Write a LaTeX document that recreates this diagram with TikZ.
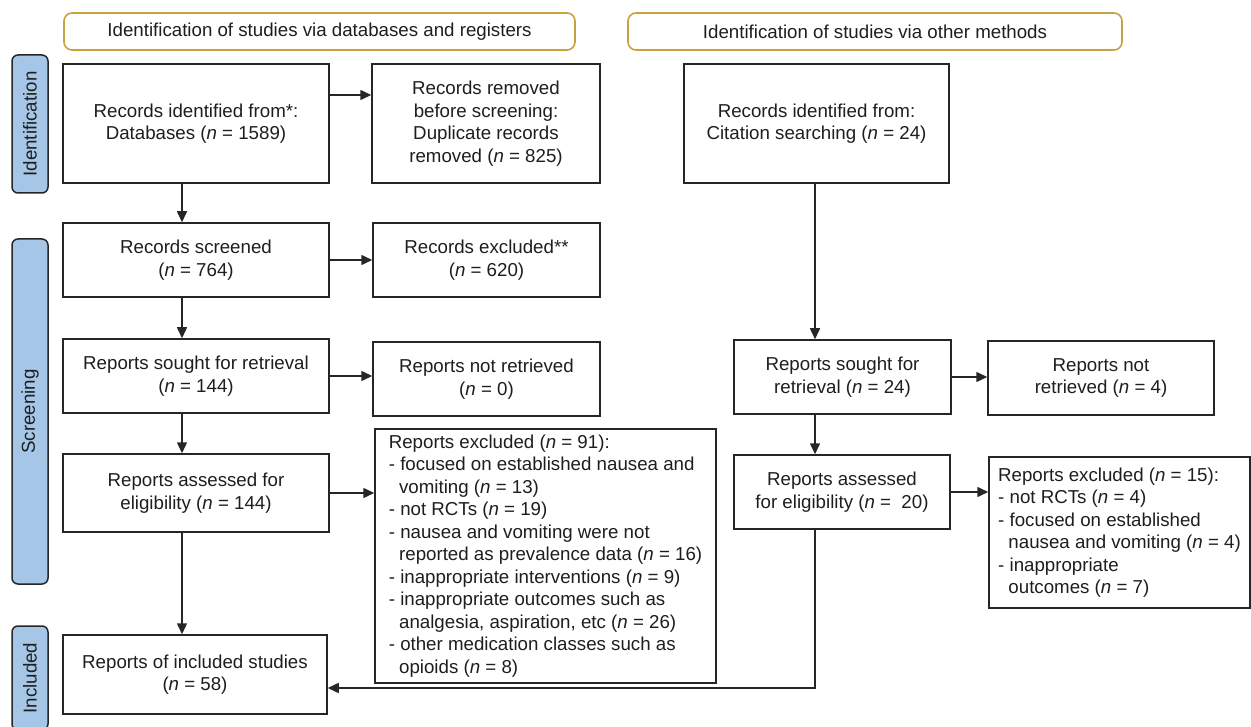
\documentclass[tikz,border=0pt]{standalone}
\usepackage{fontspec}
\setmainfont{Liberation Sans}
\usepackage{xcolor}
\definecolor{prgold}{HTML}{C9A23F}
\definecolor{prblue}{HTML}{A6C6E8}
\definecolor{prline}{HTML}{262626}
\definecolor{prtext}{HTML}{1E1E1E}
\usepackage{tikz}
\usetikzlibrary{arrows.meta,calc}

\begin{document}
\begin{tikzpicture}[x=1pt,y=-1pt,
  every node/.style={font=\fontsize{18.7}{22.5}\selectfont,text=prtext},
  box/.style={draw=prline,line width=1.5pt,fill=white,align=center,inner sep=0pt},
  phase/.style={draw=prline,line width=1.5pt,fill=prblue,rounded corners=6pt,
                rotate=90,inner sep=0pt,minimum height=36pt},
  head/.style={draw=prgold,line width=1.6pt,rounded corners=8pt,
               minimum height=37pt,inner sep=0pt},
  arr/.style={draw=prline,line width=1.5pt,-{Triangle[length=11pt,width=10pt]}}]
  \useasboundingbox (0,0) rectangle (1251,727);
  \clip (0,0) rectangle (1251,727);

  %% Headers
  \node[head,minimum width=511pt] (hdDb) at (319.5,31.5)
    {Identification of studies via databases and registers};
  \node[head,minimum width=494pt] (hdOt) at (875,31.5)
    {Identification of studies via other methods};

  %% Phases
  \node[phase,minimum width=138pt] (phId)  at (30,124)   {Identification};
  \node[phase,minimum width=345pt] (phScr) at (30,411.5) {Screening};
  \node[phase,minimum width=104pt] (phInc) at (30,678)   {Included};

  %% Databases and registers
  \node[box,minimum width=266pt,minimum height=119pt] (idDb) at (196,123.5)
    {Records identified from*:\\Databases (\textit{n} = 1589)};
  \node[box,minimum width=228pt,minimum height=119pt] (rmDb) at (486,123.5)
    {Records removed\\before screening:\\Duplicate records\\removed (\textit{n} = 825)};
  \node[box,minimum width=266pt,minimum height=74pt] (scr) at (196,260)
    {Records screened\\(\textit{n} = 764)};
  \node[box,minimum width=227pt,minimum height=74pt] (exRec) at (486.5,260)
    {Records excluded**\\(\textit{n} = 620)};
  \node[box,minimum width=266pt,minimum height=74pt] (sgDb) at (196,376)
    {Reports sought for retrieval\\(\textit{n} = 144)};
  \node[box,minimum width=227pt,minimum height=74pt] (nrDb) at (486.5,379)
    {Reports not retrieved\\(\textit{n} = 0)};
  \node[box,minimum width=266pt,minimum height=78pt] (asDb) at (196,493)
    {Reports assessed for\\eligibility (\textit{n} = 144)};
  \node[box,align=left,minimum width=341pt,minimum height=254pt] (exDb) at (545.5,556)
    {Reports excluded (\textit{n} = 91):\\
     - focused on established nausea and\\
     \hspace*{0.55em}vomiting (\textit{n} = 13)\\
     - not RCTs (\textit{n} = 19)\\
     - nausea and vomiting were not\\
     \hspace*{0.55em}reported as prevalence data (\textit{n} = 16)\\
     - inappropriate interventions (\textit{n} = 9)\\
     - inappropriate outcomes such as\\
     \hspace*{0.55em}analgesia, aspiration, etc (\textit{n} = 26)\\
     - other medication classes such as\\
     \hspace*{0.55em}opioids (\textit{n} = 8)};
  \node[box,minimum width=264pt,minimum height=79pt] (incl) at (195,674.5)
    {Reports of included studies\\(\textit{n} = 58)};

  %% Other methods
  \node[box,minimum width=265pt,minimum height=119pt] (idOt) at (816.5,123.5)
    {Records identified from:\\Citation searching (\textit{n} = 24)};
  \node[box,minimum width=217pt,minimum height=74pt] (sgOt) at (842.5,377)
    {Reports sought for\\retrieval (\textit{n} = 24)};
  \node[box,minimum width=226pt,minimum height=74pt] (nrOt) at (1101,378)
    {Reports not\\retrieved (\textit{n} = 4)};
  \node[box,minimum width=216pt,minimum height=74pt] (asOt) at (842,492)
    {Reports assessed\\for eligibility (\textit{n} =\ \ 20)};
  \node[box,align=left,minimum width=261pt,minimum height=151pt] (exOt) at (1119.5,532.5)
    {Reports excluded (\textit{n} = 15):\\
     - not RCTs (\textit{n} = 4)\\
     - focused on established\\
     \hspace*{0.55em}nausea and vomiting (\textit{n} = 4)\\
     - inappropriate\\
     \hspace*{0.55em}outcomes (\textit{n} = 7)};

  %% Connectors
  \draw[arr] ([yshift=28.5pt]idDb.east) -- ([yshift=28.5pt]idDb.east -| rmDb.west);
  \draw[arr] ([xshift=-14pt]idDb.south) -- ([xshift=-14pt]idDb.south |- scr.north);
  \draw[arr] (scr.east) -- (scr.east -| exRec.west);
  \draw[arr] ([xshift=-14pt]scr.south) -- ([xshift=-14pt]scr.south |- sgDb.north);
  \draw[arr] (sgDb.east) -- (sgDb.east -| nrDb.west);
  \draw[arr] ([xshift=-14pt]sgDb.south) -- ([xshift=-14pt]sgDb.south |- asDb.north);
  \draw[arr] (asDb.east) -- (asDb.east -| exDb.west);
  \draw[arr] ([xshift=-14pt]asDb.south) -- ([xshift=-14pt]asDb.south |- incl.north);

  \draw[arr] ([xshift=-1.5pt]idOt.south) -- ([xshift=-1.5pt]idOt.south |- sgOt.north);
  \draw[arr] (sgOt.east) -- (sgOt.east -| nrOt.west);
  \draw[arr] ([xshift=-1.5pt]idOt.south |- sgOt.south)
    -- ([xshift=-1.5pt]idOt.south |- asOt.north);
  \draw[arr] (asOt.east) -- (asOt.east -| exOt.west);
  \draw[arr] ([xshift=-1.5pt]idOt.south |- asOt.south) |- ([yshift=-13.5pt]incl.east);
\end{tikzpicture}
\end{document}
